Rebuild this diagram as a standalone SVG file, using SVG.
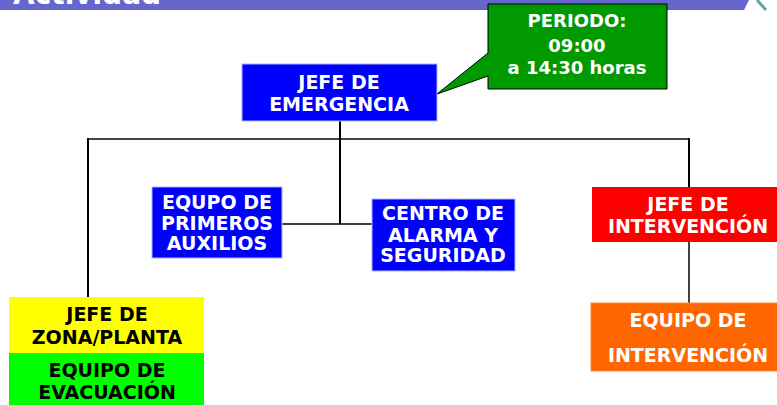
<svg xmlns="http://www.w3.org/2000/svg" width="777" height="405" viewBox="0 0 777 405">
<style>
text{font-family:"DejaVu Sans","Verdana",sans-serif;font-weight:bold;text-anchor:middle}
.w{fill:#fff;font-size:19px}
.k{fill:#000;font-size:19px}
.c{fill:#fff;font-size:18px}
.blue{fill:#0000ff;stroke:#b0b0ff;stroke-width:1}
.conn{stroke:#000;stroke-width:2;fill:none}
</style>
<rect width="777" height="405" fill="#fff"/>
<g id="header">
<polygon points="0,0 749,0 744,10 0,10" fill="#6666cc"/>
<line x1="757" y1="0" x2="766" y2="10" stroke="#66a6a6" stroke-width="3"/>
<text x="13" y="4" style="text-anchor:start;font-size:28px;fill:#fff">Actividad</text>
</g>
<g id="connectors">
<line x1="88" y1="139" x2="689" y2="139" stroke="#444" stroke-width="2"/>
<line class="conn" x1="88" y1="138" x2="88" y2="297"/>
<line class="conn" x1="689" y1="138" x2="689" y2="187"/>
<line class="conn" x1="340" y1="121" x2="340" y2="224"/>
<line x1="282" y1="224" x2="372" y2="224" stroke="#000" stroke-width="1.5"/>
<line x1="689" y1="242" x2="689" y2="303" stroke="#000" stroke-width="1.5"/>
</g>
<g id="periodo">
<path d="M488,4 H667 V89 H488 V76 L437,94 L488,53 Z" fill="#009900" stroke="#000" stroke-width="1"/>
<text class="c" x="577" y="27">PERIODO:</text>
<text class="c" x="577" y="52">09:00</text>
<text class="c" x="577" y="74">a 14:30 horas</text>
</g>
<g id="jefe-emergencia">
<rect class="blue" x="242" y="64" width="195" height="57"/>
<text class="w" x="339" y="89">JEFE DE</text>
<text class="w" x="339" y="111">EMERGENCIA</text>
</g>
<g id="primeros-auxilios">
<rect class="blue" x="152" y="187" width="130" height="71"/>
<text class="w" x="217" y="209">EQUPO DE</text>
<text class="w" x="217" y="230">PRIMEROS</text>
<text class="w" x="217" y="250">AUXILIOS</text>
</g>
<g id="centro-alarma">
<rect class="blue" x="372" y="199" width="143" height="72"/>
<text class="w" x="443" y="220">CENTRO DE</text>
<text class="w" x="443" y="242">ALARMA Y</text>
<text class="w" x="443" y="262">SEGURIDAD</text>
</g>
<g id="jefe-intervencion">
<rect x="592" y="187" width="186" height="55" fill="#ff0000"/>
<text class="w" x="688" y="211">JEFE DE</text>
<text class="w" x="688" y="233">INTERVENCIÓN</text>
</g>
<g id="equipo-intervencion">
<rect x="591" y="303" width="187" height="68" fill="#ff6600" stroke="#ff8833" stroke-width="1"/>
<text class="w" x="688" y="327">EQUIPO DE</text>
<text class="w" x="688" y="362">INTERVENCIÓN</text>
</g>
<g id="jefe-zona">
<rect x="9" y="297" width="195" height="56" fill="#ffff00"/>
<text class="k" x="107" y="321">JEFE DE</text>
<text class="k" x="107" y="344">ZONA/PLANTA</text>
</g>
<g id="equipo-evacuacion">
<rect x="9" y="353" width="195" height="53" fill="#00ff00"/>
<text class="k" x="107" y="377">EQUIPO DE</text>
<text class="k" x="107" y="399">EVACUACIÓN</text>
</g>
</svg>
